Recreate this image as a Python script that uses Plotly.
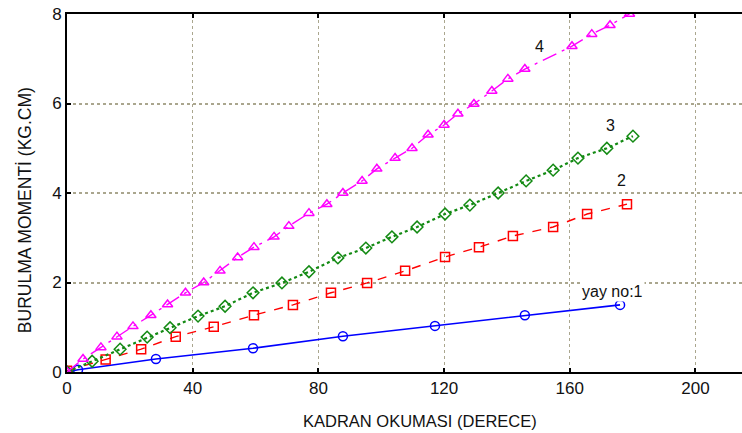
import plotly.graph_objects as go

# Spring calibration: torque (kg.cm) versus dial reading (degrees), springs 1-4
spring1_x = [0, 3.5, 28.3, 59.2, 87.8, 117.1, 145.7, 176.0]
spring1_y = [0, 0.05, 0.29, 0.53, 0.80, 1.03, 1.27, 1.50]

spring2_x = [0, 12.3, 23.6, 34.6, 46.7, 59.5, 71.9, 84.0, 95.5, 107.6, 120.3, 131.1, 141.9, 154.7, 165.5, 178.2]
spring2_y = [0.03, 0.28, 0.51, 0.79, 1.01, 1.27, 1.50, 1.77, 1.99, 2.26, 2.57, 2.79, 3.04, 3.24, 3.53, 3.75]

spring3_x = [0, 8.0, 16.9, 25.5, 32.8, 41.7, 50.3, 59.2, 68.4, 77.0, 86.2, 95.1, 103.4, 111.4,
             120.3, 128.2, 137.2, 146.1, 154.7, 162.6, 171.8, 180.1]
spring3_y = [0, 0.24, 0.51, 0.78, 0.99, 1.25, 1.47, 1.77, 1.99, 2.24, 2.55, 2.77, 3.02, 3.24,
             3.53, 3.73, 4.00, 4.27, 4.51, 4.78, 5.00, 5.27]

spring4_x = [0, 5.1, 10.8, 15.9, 21.0, 26.7, 32.0, 37.7, 43.5, 48.7, 54.3, 59.5, 65.9, 70.6, 77.0,
             82.7, 87.8, 93.9, 98.6, 104.4, 109.8, 114.9, 120.0, 124.4, 129.5, 135.2, 140.3, 145.7,
             160.7, 167.0, 172.8, 179.0]
spring4_y = [0, 0.29, 0.55, 0.79, 1.02, 1.27, 1.51, 1.77, 2.00, 2.26, 2.56, 2.79, 3.02, 3.26, 3.55,
             3.75, 4.00, 4.27, 4.54, 4.78, 5.00, 5.30, 5.52, 5.77, 5.99, 6.28, 6.55, 6.77,
             7.28, 7.55, 7.75, 8.00]

x_ticks = [0, 40, 80, 120, 160, 200]
y_ticks = [0, 2, 4, 6, 8]

labels_text = ["4", "3", "2", "yay no:1"]
labels_x = [150.2, 172.8, 176.6, 173.7]
labels_y = [7.28, 5.50, 4.29, 1.81]

x_title = "KADRAN OKUMASI (DERECE)"
y_title = "BURULMA MOMENTİ (KG.CM)"

FONT = "Liberation Sans, Arial, sans-serif"

fig = go.Figure()

series = [
    (spring1_x, spring1_y, "#0000ff", "solid", "circle-open", 1.6),
    (spring2_x, spring2_y, "#ff0000", "dash", "square-open", 1.4),
    (spring3_x, spring3_y, "#138a13", "dot", "diamond-open", 2.2),
    (spring4_x, spring4_y, "#ff00ff", "longdashdot", "triangle-up-open", 1.4),
]
for xs, ys, color, dash, symbol, lw in series:
    fig.add_trace(go.Scatter(
        x=xs, y=ys, mode="lines+markers",
        line=dict(color=color, width=lw, dash=dash),
        marker=dict(symbol=symbol, size=9, color=color, line=dict(color=color, width=1.5)),
        showlegend=False, cliponaxis=True,
    ))

for t, lx, ly in zip(labels_text, labels_x, labels_y):
    fig.add_annotation(x=lx, y=ly, text=t, showarrow=False,
                       font=dict(family=FONT, size=16, color="#111"),
                       bgcolor="white", borderpad=1)

# axis titles placed as paper-anchored annotations
fig.add_annotation(xref="paper", yref="paper", x=0.523, y=-0.137, text=x_title,
                   showarrow=False, xanchor="center", yanchor="middle",
                   font=dict(family=FONT, size=16.5, color="#111"))
fig.add_annotation(xref="paper", yref="paper", x=-0.062, y=0.4525, text=y_title,
                   showarrow=False, xanchor="center", yanchor="middle", textangle=-90,
                   font=dict(family=FONT, size=17.5, color="#111"))

fig.update_layout(
    width=742, height=433,
    margin=dict(l=67, r=0, t=14, b=61),
    paper_bgcolor="white", plot_bgcolor="white",
    font=dict(family=FONT, size=16, color="#111"),
)
fig.update_xaxes(
    range=[0, 214.8], tickvals=x_ticks, ticks="inside", ticklen=4, tickwidth=1.5, tickcolor="black",
    showline=True, linecolor="black", linewidth=2, mirror="ticks",
    showgrid=True, gridcolor="#aaa68e", gridwidth=1.3, griddash="dot", zeroline=False,
    tickfont=dict(size=17),
)
fig.update_yaxes(
    range=[0, 8], tickvals=y_ticks, ticks="inside", ticklen=4, tickwidth=1.5, tickcolor="black",
    showline=True, linecolor="black", linewidth=2, mirror=False,
    showgrid=True, gridcolor="#aaa68e", gridwidth=1.8, griddash="dot", zeroline=False,
    tickfont=dict(size=17),
)

fig.write_html("out.html")
